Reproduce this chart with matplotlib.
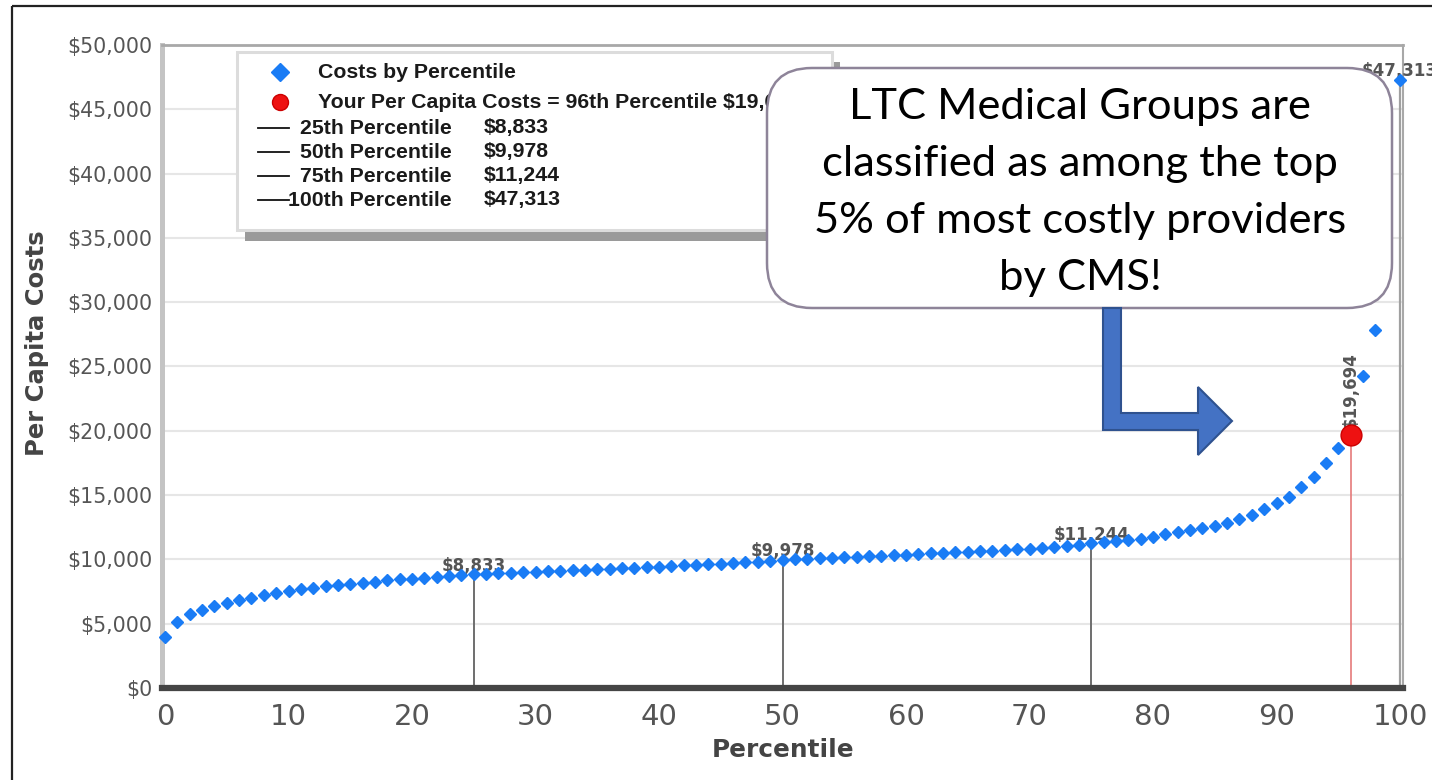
import numpy as np
import matplotlib
matplotlib.use("Agg")
import matplotlib.pyplot as plt
from matplotlib.patches import Rectangle, FancyBboxPatch, Polygon
from matplotlib.ticker import FuncFormatter

# ---------------- data ----------------
percentiles = list(range(0, 101))
costs = [
    3950, 5150, 5750, 6100, 6370, 6610, 6820, 7020, 7200, 7380,
    7530, 7660, 7780, 7900, 7990, 8090, 8190, 8280, 8360, 8440,
    8510, 8590, 8670, 8740, 8800, 8833, 8880, 8920, 8960, 9000,
    9040, 9080, 9120, 9160, 9200, 9240, 9280, 9320, 9360, 9400,
    9440, 9480, 9530, 9570, 9610, 9660, 9710, 9770, 9830, 9900,
    9978, 10020, 10060, 10100, 10140, 10180, 10220, 10260, 10300, 10340,
    10380, 10420, 10460, 10500, 10540, 10590, 10630, 10670, 10720, 10770,
    10820, 10880, 10950, 11050, 11150, 11244, 11330, 11420, 11510, 11620,
    11770, 11950, 12110, 12290, 12420, 12600, 12850, 13140, 13450, 13900,
    14360, 14880, 15600, 16430, 17470, 18640, 19694, 24300, 27850, np.nan,
    47313,
]
marker_pcts = [25, 50, 75, 100]
marker_vals = [8833, 9978, 11244, 47313]
your_pct = 96
your_cost = 19694
y_ticks = list(range(0, 50001, 5000))
x_ticks = list(range(0, 101, 10))
series_label = "Costs by Percentile"
x_label = "Percentile"
y_label = "Per Capita Costs"
callout_lines = ["LTC Medical Groups are",
                 "classified as among the top",
                 "5% of most costly providers",
                 "by CMS!"]

# ---------------- figure ----------------
W, H = 1432, 780
fig = plt.figure(figsize=(W / 100, H / 100), dpi=100)
fig.patch.set_facecolor("white")

L, R, T, B = 162, 1403, 45, 688
ax = fig.add_axes([L / W, 1 - B / H, (R - L) / W, (B - T) / H])
ax.set_zorder(1)
ppu = (1400 - 165) / 100.0
ax.set_xlim(-(165 - L) / ppu, 100 + (R - 1400) / ppu)
ax.set_ylim(0, 50000)

ax.set_yticks(y_ticks)
ax.set_xticks(x_ticks)
ax.yaxis.set_major_formatter(FuncFormatter(lambda v, p: f"${int(v):,}"))
ax.yaxis.grid(True, color="#e6e6e6", lw=1.5)
ax.set_axisbelow(True)
ax.tick_params(axis="y", length=0, pad=7, labelsize=14.8, labelcolor="#555555")
ax.tick_params(axis="x", length=0, pad=11, labelsize=21, labelcolor="#555555")
for lab in ax.get_xticklabels() + ax.get_yticklabels():
    lab.set_family("DejaVu Sans")

ax.spines["left"].set_color("#c4c4c4")
ax.spines["left"].set_linewidth(3.6)
ax.spines["top"].set_color("#a8a8a8")
ax.spines["top"].set_linewidth(2.0)
ax.spines["right"].set_color("#a8a8a8")
ax.spines["right"].set_linewidth(1.5)
ax.spines["bottom"].set_color("#454545")
ax.spines["bottom"].set_linewidth(4.5)
ax.spines["bottom"].set_zorder(6)

# percentile reference lines
ax.vlines(marker_pcts[:3], 0, marker_vals[:3], color="#6e6e6e", lw=1.4, zorder=2)
ax.vlines(marker_pcts[3], 0, marker_vals[3], color="#a0a0a0", lw=1.6, zorder=2)
ax.vlines(your_pct, 0, your_cost, color="#e57a7a", lw=1.2, zorder=2)

# data labels
for p, v in zip(marker_pcts, marker_vals):
    ax.annotate(f"${v:,}", (p, v), xytext=(0, 2.5), textcoords="offset points",
                ha="center", va="baseline", fontsize=12, fontweight="bold",
                color="#555555", family="DejaVu Sans", zorder=3,
                annotation_clip=False)
ax.annotate(f"${your_cost:,}", (your_pct, your_cost), xytext=(0, 5),
            textcoords="offset points", rotation=90, ha="center", va="bottom",
            fontsize=12, fontweight="bold", color="#555555",
            family="DejaVu Sans", zorder=3)

# points
ax.plot(percentiles, costs, "D", ms=6.5, color="#1a7cf5", mec="#1a7cf5",
        ls="none", zorder=4, clip_on=False)
ax.plot([your_pct], [your_cost], "o", ms=15, color="#ee1111", mec="#cc0000",
        mew=1, zorder=5, clip_on=False)

# axis titles
fig.text(783 / W, 1 - 750 / H, x_label, ha="center", va="center", fontsize=17.8,
         fontweight="bold", color="#444444", family="DejaVu Sans")
fig.text(37 / W, 1 - 343 / H, y_label, ha="center", va="center", fontsize=17.5,
         fontweight="bold", color="#444444", rotation=90, family="DejaVu Sans")

# ---------------- overlay (pixel coordinates) ----------------
ov = fig.add_axes([0, 0, 1, 1])
ov.set_zorder(5)
ov.set_xlim(0, W)
ov.set_ylim(H, 0)
ov.axis("off")

# outer screenshot border
ov.add_patch(Rectangle((12, 6), W, H, fill=False, ec="#222222", lw=1.6))

# legend box with shadow
ov.add_patch(Rectangle((245, 62), 595, 179, fc="#9a9a9a", ec="none", zorder=1))
ov.add_patch(Rectangle((237, 52), 595, 178, fc="white", ec="#dcdcdc", lw=2.2, zorder=2))
lf = dict(family="Liberation Sans", fontsize=15.3, fontweight="bold",
          color="#1a1a1a", va="center", zorder=3)
ov.plot([280], [72], "D", ms=9, color="#1a7cf5", zorder=3)
ov.text(318, 72, series_label, **lf)
ov.plot([280], [102], "o", ms=11.5, color="#ee1111", mec="#cc0000", zorder=3)
ov.text(318, 102, f"Your Per Capita Costs = {your_pct}th Percentile ${your_cost:,}", **lf)
for i, (p, v) in enumerate(zip(marker_pcts, marker_vals)):
    yy = 128 + i * 24
    ov.plot([258, 289], [yy, yy], color="#111111", lw=1.3, zorder=3)
    ov.text(452, yy, f"{p}th Percentile", ha="right", **lf)
    ov.text(484, yy, f"${v:,}", ha="left", **lf)

# callout
ov.add_patch(FancyBboxPatch((767, 68), 1392 - 767, 308 - 68,
                            boxstyle="round,pad=0,rounding_size=45",
                            fc="white", ec="#8e8499", lw=1.8, zorder=6))
for i, line in enumerate(callout_lines):
    ov.text(1080, 119 + i * 57, line, ha="center", va="baseline",
            fontsize=31.3, family="Lato", color="black", zorder=7)

# bent arrow
arrow = [(1103, 308), (1121, 308), (1121, 413), (1198, 413), (1198, 387),
         (1232, 421), (1198, 455), (1198, 430), (1103, 430)]
ov.add_patch(Polygon(arrow, closed=True, fc="#4472C4", ec="#2F528F", lw=1.5, zorder=8))

fig.savefig("out.png", dpi=100)
